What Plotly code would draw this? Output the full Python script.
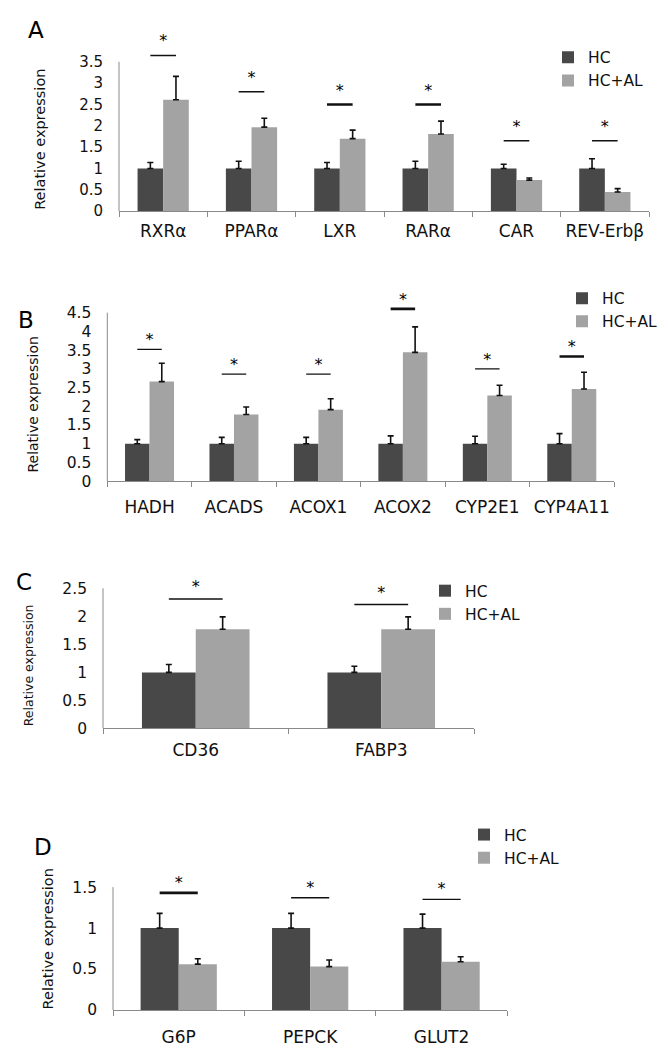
import plotly.graph_objects as go

W, H = 668, 1050
FONT = "DejaVu Sans"
HC_COLOR = "#484848"
AL_COLOR = "#a3a3a3"
AXIS_COLOR = "#8a8a8a"
INK = "#111111"

# ---------------- data ----------------
A_genes = ["RXRα", "PPARα", "LXR", "RARα", "CAR", "REV-Erbβ"]
A_hc = [1, 1, 1, 1, 1, 1]
A_hc_err = [0.14, 0.17, 0.14, 0.17, 0.10, 0.23]
A_al = [2.61, 1.97, 1.70, 1.81, 0.73, 0.45]
A_al_err = [0.55, 0.21, 0.20, 0.30, 0.05, 0.08]
A_sig = [3.65, 2.80, 2.50, 2.50, 1.65, 1.65]
A_ticks = [0, 0.5, 1, 1.5, 2, 2.5, 3, 3.5]

B_genes = ["HADH", "ACADS", "ACOX1", "ACOX2", "CYP2E1", "CYP4A11"]
B_hc = [1, 1, 1, 1, 1, 1]
B_hc_err = [0.11, 0.17, 0.17, 0.21, 0.20, 0.27]
B_al = [2.66, 1.78, 1.91, 3.44, 2.29, 2.46]
B_al_err = [0.49, 0.20, 0.29, 0.68, 0.27, 0.45]
B_sig = [3.52, 2.86, 2.86, 4.60, 3.00, 3.33]
B_ticks = [0, 0.5, 1, 1.5, 2, 2.5, 3, 3.5, 4, 4.5]

C_genes = ["CD36", "FABP3"]
C_hc = [1, 1]
C_hc_err = [0.14, 0.11]
C_al = [1.77, 1.77]
C_al_err = [0.22, 0.22]
C_sig = [2.31, 2.21]
C_ticks = [0, 0.5, 1, 1.5, 2, 2.5]

D_genes = ["G6P", "PEPCK", "GLUT2"]
D_hc = [1, 1, 1]
D_hc_err = [0.18, 0.18, 0.17]
D_al = [0.56, 0.53, 0.59]
D_al_err = [0.065, 0.08, 0.06]
D_sig = [1.43, 1.37, 1.35]
D_ticks = [0, 0.5, 1, 1.5]

# ---------------- layout geometry (pixels) ----------------
BARGAP = 0.42
panels = [
    dict(letter="A", genes=A_genes, hc=A_hc, hce=A_hc_err, al=A_al, ale=A_al_err, sig=A_sig, ticks=A_ticks,
         x0=111, x1=641, ytop=54.3, ybot=205, top=4.3,
         letter_xy=(28, 22), legend_xy=(540, 33), star_px=5, thick=[False, False, True, True, False, False],
         title_xy=(32, 133), title_size=14.5, tick_size=15, cat_standoff=4),
    dict(letter="B", genes=B_genes, hc=B_hc, hce=B_hc_err, al=B_al, ale=B_al_err, sig=B_sig, ticks=B_ticks,
         x0=99.3, x1=606, ytop=307.3, ybot=477.3, top=5.1,
         letter_xy=(18, 315), legend_xy=(554, 276), star_px=0, thick=[False, False, False, True, False, True],
         title_xy=(25, 400), title_size=14, tick_size=15.5, cat_standoff=10),
    dict(letter="C", genes=C_genes, hc=C_hc, hce=C_hc_err, al=C_al, ale=C_al_err, sig=C_sig, ticks=C_ticks,
         x0=95, x1=466, ytop=585.3, ybot=726.7, top=2.9,
         letter_xy=(16, 579), legend_xy=(417, 571), star_px=3, thick=[False, False],
         title_xy=(20, 663), title_size=12.5, tick_size=15.5, cat_standoff=6),
    dict(letter="D", genes=D_genes, hc=D_hc, hce=D_hc_err, al=D_al, ale=D_al_err, sig=D_sig, ticks=D_ticks,
         x0=105, x1=499.3, ytop=886.7, ybot=1010.7, top=1.75,
         letter_xy=(35, 846), legend_xy=(456, 817), star_px=1, thick=[True, False, False],
         title_xy=(39.5, 939), title_size=14.5, tick_size=15.5, cat_standoff=12),
]

fig = go.Figure()
layout = dict(
    width=W, height=H, margin=dict(l=0, r=0, t=0, b=0),
    paper_bgcolor="white", plot_bgcolor="white",
    font=dict(family=FONT, color=INK),
    barmode="group", bargap=BARGAP, bargroupgap=0,
    showlegend=True,
)
annotations = []
shapes = []
half = (1 - BARGAP) / 4

for k, p in enumerate(panels):
    idx = "" if k == 0 else str(k + 1)
    xa, ya = "x" + idx, "y" + idx
    leg = "legend" + idx
    n = len(p["genes"])
    pos = list(range(n))
    ymax = p["ticks"][-1]
    unit_px = (p["ybot"] - p["ytop"]) / ymax
    dom_top_px = p["ybot"] - p["top"] * unit_px

    fig.add_trace(go.Bar(
        x=pos, y=p["hc"], name="HC", marker=dict(color=HC_COLOR, line=dict(width=0)),
        error_y=dict(type="data", symmetric=False, array=p["hce"], arrayminus=[0] * n,
                     color=INK, thickness=1.6, width=3),
        customdata=p["genes"], xaxis=xa, yaxis=ya, legend=leg, offsetgroup="hc",
    ))
    fig.add_trace(go.Bar(
        x=pos, y=p["al"], name="HC+AL", marker=dict(color=AL_COLOR, line=dict(width=0)),
        error_y=dict(type="data", symmetric=False, array=p["ale"], arrayminus=[0] * n,
                     color=INK, thickness=1.6, width=3),
        customdata=p["genes"], xaxis=xa, yaxis=ya, legend=leg, offsetgroup="al",
    ))
    # significance bars (HC bar centre to HC+AL bar centre) and stars
    for thick in (False, True):
        xs, ys = [], []
        for i, yv in enumerate(p["sig"]):
            if p["thick"][i] == thick:
                xs += [i - half, i + half, None]
                ys += [yv, yv, None]
        if xs:
            fig.add_trace(go.Scatter(
                x=xs, y=ys, mode="lines", line=dict(color=INK, width=2.6 if thick else 1.4),
                showlegend=False, hoverinfo="skip", xaxis=xa, yaxis=ya,
            ))
    fig.add_trace(go.Scatter(
        x=pos, y=[v + p["star_px"] / unit_px for v in p["sig"]], mode="text", text=["*"] * n,
        textposition="top center", textfont=dict(family=FONT, size=16, color="#000000"),
        cliponaxis=False, showlegend=False, hoverinfo="skip", xaxis=xa, yaxis=ya,
    ))

    xd = [p["x0"] / W, p["x1"] / W]
    yd = [1 - p["ybot"] / H, 1 - dom_top_px / H]
    layout["xaxis" + idx] = dict(
        domain=xd, anchor=ya, range=[-0.5, n - 0.5],
        tickmode="array", tickvals=pos, ticktext=p["genes"], ticks="",
        minor=dict(tickvals=[i - 0.5 for i in range(n + 1)], ticks="outside", ticklen=5,
                   tickcolor=AXIS_COLOR, showgrid=False),
        showline=True, linecolor=AXIS_COLOR, linewidth=1,
        showgrid=False, zeroline=False,
        tickfont=dict(family=FONT, size=17, color=INK),
        ticklabelstandoff=p["cat_standoff"],
    )
    layout["yaxis" + idx] = dict(
        domain=yd, anchor=xa, range=[0, p["top"]],
        tickmode="array", tickvals=p["ticks"],
        showline=False, ticks="", showgrid=False, zeroline=False,
        tickfont=dict(family=FONT, size=p["tick_size"], color=INK),
        ticklabelstandoff=15,
    )
    # visible y-axis line only over the labelled range
    shapes.append(dict(
        type="line", xref=xa + " domain", yref=ya, x0=0, x1=0, y0=0, y1=ymax,
        line=dict(color=AXIS_COLOR, width=1),
    ))
    lx, ly = p["legend_xy"]
    layout[leg] = dict(
        x=lx / W, y=1 - ly / H, xanchor="left", yanchor="top",
        bgcolor="rgba(0,0,0,0)", borderwidth=0,
        font=dict(family=FONT, size=15.5, color=INK),
        traceorder="normal",
    )
    annotations.append(dict(
        xref="paper", yref="paper", x=p["title_xy"][0] / W, y=1 - p["title_xy"][1] / H,
        text="Relative expression", textangle=-90, showarrow=False,
        xanchor="center", yanchor="middle",
        font=dict(family=FONT, size=p["title_size"], color=INK),
    ))
    annotations.append(dict(
        xref="paper", yref="paper", x=p["letter_xy"][0] / W, y=1 - p["letter_xy"][1] / H,
        text=p["letter"], showarrow=False, xanchor="center", yanchor="middle",
        font=dict(family=FONT, size=23, color="#000000"),
    ))

layout["annotations"] = annotations
layout["shapes"] = shapes
fig.update_layout(**layout)
fig.write_html("out.html")
